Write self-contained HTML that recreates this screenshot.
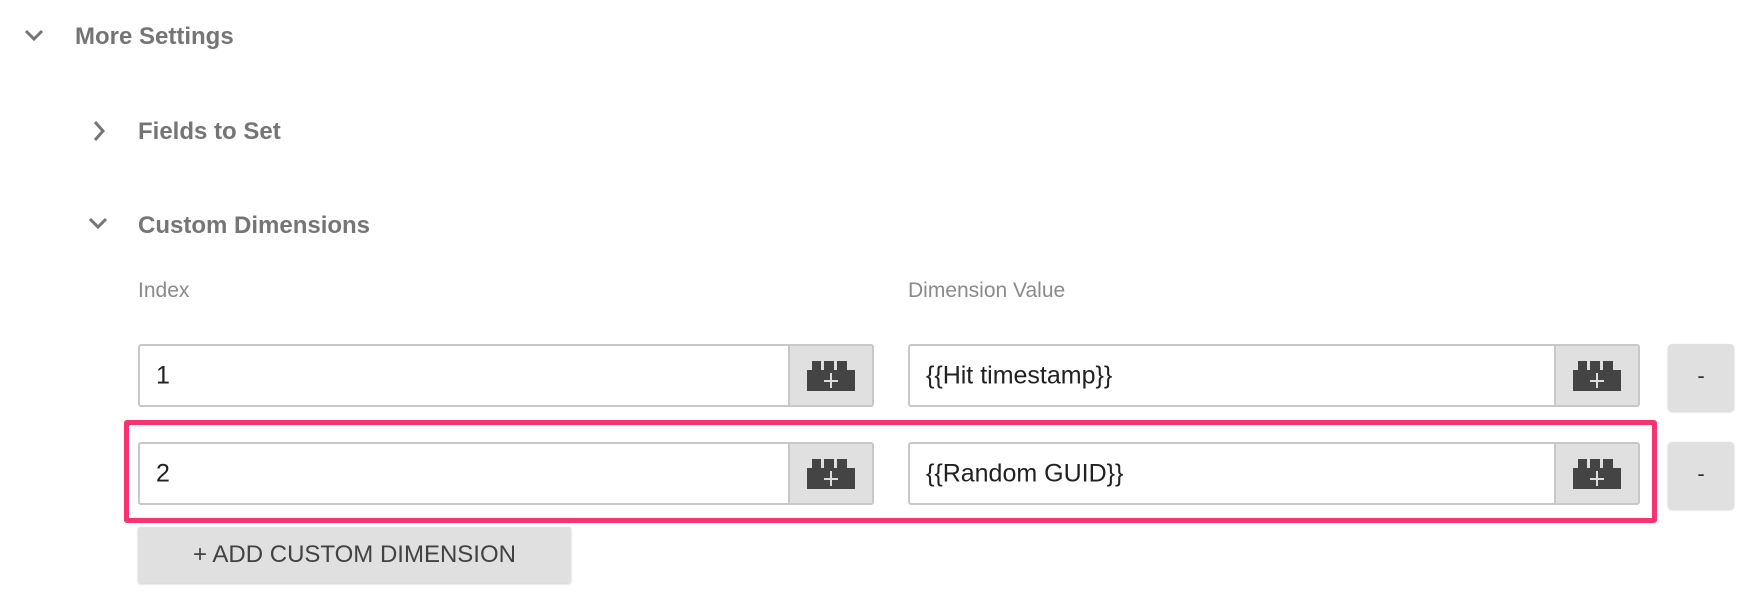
<!DOCTYPE html>
<html><head><style>
body{margin:0;width:1746px;height:604px;background:#fff;position:relative;font-family:"Liberation Sans",sans-serif;overflow:hidden}
.a{position:absolute}
.h{color:#757575;font-size:24px;font-weight:bold}
.l{color:#8a8a8a;font-size:21px}
.in{position:absolute;border:2px solid #c8c8c8;border-radius:3px;box-sizing:border-box;background:#fff}
.in span{position:absolute;left:16px;top:50%;transform:translateY(-50%);font-size:25px;color:#212121}
.btn{position:absolute;right:0;top:0;bottom:0;width:82px;background:#e0e0e0;border-left:2px solid #c8c8c8}
.btn svg{position:absolute;left:50%;top:50%;transform:translate(-50%,-50%)}
.minus{position:absolute;background:#e0e0e0;border-radius:4px;box-shadow:0 1px 2px rgba(0,0,0,.2);color:#333;font-size:22px;text-align:center}
</style></head><body>
<svg class="a" style="left:24px;top:28px" width="20" height="14"><polyline points="2,3 10,11 18,3" fill="none" stroke="#757575" stroke-width="3"/></svg>
<div class="a h" style="left:75px;top:23px">More Settings</div>
<svg class="a" style="left:92px;top:120px" width="14" height="22"><polyline points="3,2 11,11 3,20" fill="none" stroke="#757575" stroke-width="3"/></svg>
<div class="a h" style="left:138px;top:118px">Fields to Set</div>
<svg class="a" style="left:88px;top:216px" width="20" height="14"><polyline points="2,3 10,11 18,3" fill="none" stroke="#757575" stroke-width="3"/></svg>
<div class="a h" style="left:138px;top:212px">Custom Dimensions</div>
<div class="a l" style="left:138px;top:279px">Index</div>
<div class="a l" style="left:908px;top:279px">Dimension Value</div>

<div class="in" style="left:138px;top:344px;width:736px;height:63px"><span>1</span><div class="btn"><svg width="48" height="30"><path d="M0 9h5V0h9v9h3V0h10v9h3V0h10v9h8v21H0z" fill="#444"/><path d="M24 12v15M17 20h14" stroke="#ddd" stroke-width="2"/></svg></div></div>
<div class="in" style="left:908px;top:344px;width:732px;height:63px"><span>{{Hit timestamp}}</span><div class="btn"><svg width="48" height="30"><path d="M0 9h5V0h9v9h3V0h10v9h3V0h10v9h8v21H0z" fill="#444"/><path d="M24 12v15M17 20h14" stroke="#ddd" stroke-width="2"/></svg></div></div>
<div class="minus" style="left:1668px;top:344px;width:66px;height:67px;line-height:64px">-</div>

<div class="in" style="left:138px;top:442px;width:736px;height:63px"><span>2</span><div class="btn"><svg width="48" height="30"><path d="M0 9h5V0h9v9h3V0h10v9h3V0h10v9h8v21H0z" fill="#444"/><path d="M24 12v15M17 20h14" stroke="#ddd" stroke-width="2"/></svg></div></div>
<div class="in" style="left:908px;top:442px;width:732px;height:63px"><span>{{Random GUID}}</span><div class="btn"><svg width="48" height="30"><path d="M0 9h5V0h9v9h3V0h10v9h3V0h10v9h8v21H0z" fill="#444"/><path d="M24 12v15M17 20h14" stroke="#ddd" stroke-width="2"/></svg></div></div>
<div class="minus" style="left:1668px;top:442px;width:66px;height:67px;line-height:64px">-</div>

<div class="a" style="left:124px;top:420px;width:1533px;height:103px;border:5px solid #f7346f;border-radius:3px;box-sizing:border-box"></div>

<div class="a" style="left:138px;top:527px;width:433px;height:56px;background:#e0e0e0;border-radius:2px;box-shadow:0 1px 2px rgba(0,0,0,.2);color:#424242;font-size:24px;line-height:56px;text-align:center">+ ADD CUSTOM DIMENSION</div>
</body></html>
